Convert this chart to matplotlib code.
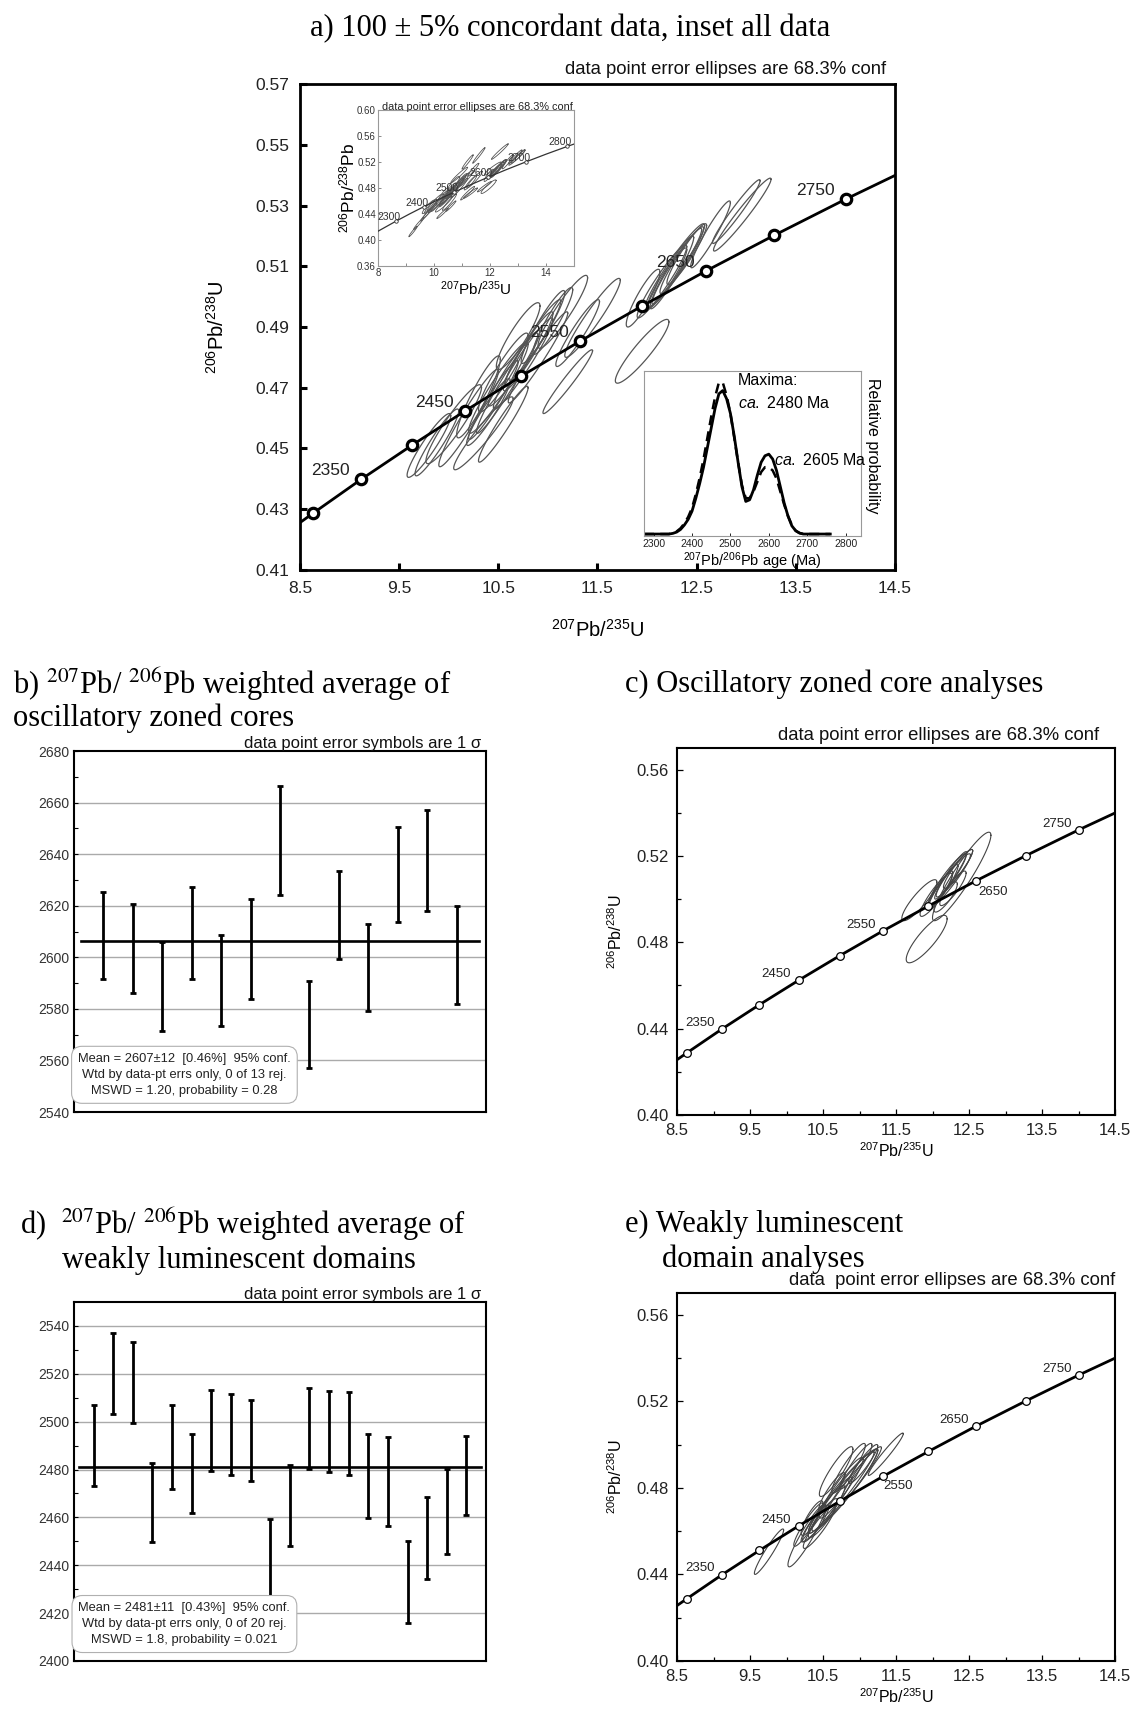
import numpy as np
import matplotlib
matplotlib.use("Agg")
import matplotlib.pyplot as plt

plt.rcParams['font.family'] = ['Liberation Sans', 'DejaVu Sans']
plt.rcParams['mathtext.fontset'] = 'custom'
plt.rcParams['mathtext.rm'] = 'Liberation Sans'
plt.rcParams['mathtext.it'] = 'Liberation Sans:italic'

W, H = 1135, 1711
SERIF = ['Liberation Serif', 'DejaVu Serif']

# concordia age marks (Ma) and their ratios
conc_age = [2300, 2350, 2400, 2450, 2500, 2550, 2600, 2650, 2700, 2750, 2800]
conc_x = [8.632, 9.119, 9.630, 10.166, 10.730, 11.322, 11.944, 12.597, 13.283, 14.004, 14.762]
conc_y = [0.4287, 0.4399, 0.4511, 0.4624, 0.4738, 0.4853, 0.4968, 0.5085, 0.5202, 0.5321, 0.5440]
main_ends_x = [8.5, 14.5]
main_ends_y = [0.4256, 0.5399]
inset_ends_x = [8.0, 15.0]
inset_ends_y = [0.4135, 0.5476]
label_ages = [2350, 2450, 2550, 2650, 2750]

# a) concordant data: x, sigma x, y, sigma y, rho
a_x = [9.80, 9.88, 10.05, 10.20, 10.30, 10.35, 10.45, 10.50, 10.55, 10.60, 10.65, 10.70,
       10.75, 10.80, 10.85, 10.90, 10.95, 11.05, 11.15, 11.20, 10.55, 10.40, 11.95, 11.96,
       12.15, 12.25, 12.30, 12.35, 12.20, 12.40, 12.64, 12.96, 12.90, 12.28, 11.45, 11.30]
a_sx = [0.22, 0.22, 0.28, 0.30, 0.22, 0.30, 0.25, 0.30, 0.25, 0.32, 0.25, 0.22,
        0.30, 0.25, 0.28, 0.30, 0.22, 0.20, 0.25, 0.25, 0.25, 0.22, 0.27, 0.17,
        0.25, 0.22, 0.25, 0.22, 0.20, 0.20, 0.20, 0.29, 0.24, 0.30, 0.28, 0.22]
a_y = [0.4510, 0.4520, 0.4580, 0.4600, 0.4670, 0.4550, 0.4660, 0.4700, 0.4750, 0.4720, 0.4760, 0.4870,
       0.4780, 0.4820, 0.4850, 0.4800, 0.4900, 0.4920, 0.4950, 0.4720, 0.4580, 0.4620, 0.4820, 0.4995,
       0.5050, 0.5080, 0.5100, 0.5120, 0.5060, 0.5140, 0.5205, 0.5270, 0.5280, 0.5100, 0.4930, 0.4880]
a_sy = [0.0105, 0.0110, 0.0130, 0.0160, 0.0135, 0.0120, 0.0130, 0.0150, 0.0130, 0.0170, 0.0120, 0.0110,
        0.0150, 0.0130, 0.0140, 0.0150, 0.0120, 0.0110, 0.0120, 0.0105, 0.0125, 0.0110, 0.0105, 0.0095,
        0.0120, 0.0120, 0.0125, 0.0110, 0.0100, 0.0100, 0.0110, 0.0120, 0.0105, 0.0140, 0.0130, 0.0110]
a_rho = [0.93, 0.94, 0.93, 0.96, 0.92, 0.95, 0.96, 0.95, 0.93, 0.97, 0.95, 0.90,
         0.96, 0.95, 0.96, 0.97, 0.94, 0.93, 0.93, 0.97, 0.96, 0.94, 0.92, 0.90,
         0.95, 0.95, 0.96, 0.95, 0.94, 0.94, 0.95, 0.97, 0.97, 0.96, 0.95, 0.94]

# inset: the discordant analyses added to the concordant ones
ins_x = [9.25, 9.45, 9.70, 10.30, 10.60, 11.30, 11.80, 11.60, 12.35, 11.20, 13.00, 10.90, 11.40, 12.10, 10.10, 9.85]
ins_sx = [0.15, 0.18, 0.18, 0.20, 0.18, 0.25, 0.25, 0.22, 0.30, 0.20, 0.25, 0.30, 0.20, 0.30, 0.30, 0.25]
ins_y = [0.413, 0.425, 0.438, 0.441, 0.452, 0.472, 0.482, 0.530, 0.536, 0.520, 0.528, 0.500, 0.508, 0.510, 0.455, 0.445]
ins_sy = [0.008, 0.009, 0.009, 0.008, 0.008, 0.008, 0.008, 0.012, 0.012, 0.011, 0.010, 0.012, 0.010, 0.010, 0.013, 0.012]
ins_rho = [0.97, 0.97, 0.97, 0.97, 0.97, 0.97, 0.97, 0.98, 0.98, 0.97, 0.97, 0.97, 0.96, 0.95, 0.97, 0.98]

# relative probability (inset of a)
pdp_age = [2275, 2340, 2350, 2360, 2370, 2380, 2390, 2400, 2410, 2420, 2430, 2440, 2450, 2460, 2470,
           2480, 2490, 2500, 2510, 2520, 2530, 2540, 2550, 2560, 2570, 2580, 2590, 2600, 2610,
           2620, 2630, 2640, 2650, 2660, 2670, 2680, 2690, 2760]
pdp_solid = [0.0, 0.0, 0.004, 0.012, 0.028, 0.055, 0.09, 0.14, 0.22, 0.31, 0.41, 0.53, 0.65, 0.77, 0.86,
             0.88, 0.83, 0.74, 0.60, 0.44, 0.29, 0.20, 0.21, 0.27, 0.36, 0.44, 0.48, 0.49, 0.46,
             0.39, 0.29, 0.19, 0.11, 0.05, 0.02, 0.006, 0.0, 0.0]
pdp_dash = [0.0, 0.0, 0.006, 0.016, 0.035, 0.065, 0.105, 0.16, 0.245, 0.345, 0.46, 0.59, 0.72, 0.84, 0.93,
            0.93, 0.85, 0.74, 0.59, 0.44, 0.30, 0.22, 0.22, 0.26, 0.32, 0.38, 0.41, 0.41, 0.39,
            0.34, 0.26, 0.18, 0.11, 0.055, 0.02, 0.006, 0.0, 0.0]

# b) oscillatory zoned cores, 207Pb/206Pb age and 1 sigma
b_age = [2608.4, 2603.3, 2588.6, 2609.4, 2590.9, 2603.2, 2645.2, 2573.9, 2616.3, 2596.0, 2632.2, 2637.4, 2601.0]
b_err = [16.8, 17.3, 17.2, 17.9, 17.6, 19.5, 21.2, 17.0, 17.0, 17.0, 18.4, 19.6, 19.0]
b_mean = 2606.5

# c) oscillatory zoned cores ellipses
c_x = [12.40, 11.92, 11.82, 12.20, 12.25, 12.15, 12.30, 12.10, 12.22, 12.05, 12.35, 12.18, 12.28]
c_sx = [0.40, 0.28, 0.24, 0.26, 0.22, 0.20, 0.25, 0.18, 0.30, 0.22, 0.20, 0.16, 0.18]
c_y = [0.5105, 0.4815, 0.4995, 0.5090, 0.5110, 0.5060, 0.5120, 0.5040, 0.5080, 0.5020, 0.5140, 0.5010, 0.5050]
c_sy = [0.0205, 0.0110, 0.0095, 0.0120, 0.0110, 0.0100, 0.0110, 0.0090, 0.0130, 0.0100, 0.0090, 0.0070, 0.0080]
c_rho = [0.93, 0.85, 0.88, 0.94, 0.95, 0.93, 0.94, 0.92, 0.95, 0.90, 0.93, 0.85, 0.88]

# d) weakly luminescent domains
d_age = [2489.9, 2520.1, 2516.4, 2466.3, 2489.5, 2478.3, 2496.4, 2494.6, 2492.0, 2442.4,
         2464.8, 2497.2, 2496.0, 2495.0, 2477.3, 2475.0, 2433.0, 2451.5, 2462.6, 2477.5]
d_err = [16.9, 17.0, 16.9, 16.6, 17.5, 16.6, 16.9, 17.0, 17.0, 17.0,
         16.9, 16.9, 17.0, 17.3, 17.4, 18.4, 17.1, 17.1, 17.7, 16.6]
d_mean = 2481

# e) weakly luminescent domain ellipses
e_x = [9.76, 10.28, 10.68, 10.85, 10.95, 11.36, 10.70, 10.80, 10.90, 10.40,
       10.50, 10.55, 10.35, 10.60, 11.00, 10.45, 11.05, 10.75, 10.62, 10.30]
e_sx = [0.20, 0.26, 0.23, 0.23, 0.22, 0.24, 0.50, 0.45, 0.40, 0.18,
        0.20, 0.25, 0.15, 0.30, 0.25, 0.22, 0.20, 0.30, 0.18, 0.20]
e_y = [0.4505, 0.4580, 0.4875, 0.4890, 0.4900, 0.4955, 0.4760, 0.4790, 0.4820, 0.4635,
       0.4660, 0.4700, 0.4660, 0.4720, 0.4860, 0.4620, 0.4910, 0.4800, 0.4780, 0.4630]
e_sy = [0.0105, 0.0145, 0.0115, 0.0115, 0.0105, 0.0098, 0.0210, 0.0190, 0.0170, 0.0085,
        0.0090, 0.0110, 0.0080, 0.0130, 0.0120, 0.0100, 0.0090, 0.0140, 0.0090, 0.0100]
e_rho = [0.95, 0.93, 0.90, 0.92, 0.93, 0.97, 0.97, 0.96, 0.97, 0.90,
         0.90, 0.93, 0.85, 0.95, 0.95, 0.92, 0.93, 0.94, 0.90, 0.93]


fig = plt.figure(figsize=(W / 100, H / 100), dpi=100)


def rect(l, t, r, b):
    return [l / W, 1 - b / H, (r - l) / W, (b - t) / H]


def ftext(x, y, s, **kw):
    fig.text(x / W, 1 - y / H, s, **kw)


def ellipses(ax, ex, sx, ey, sy, rho, color, lw):
    t = np.linspace(0, 2 * np.pi, 120)
    for cx, a, cy, b, r in zip(ex, sx, ey, sy, rho):
        ax.plot(cx + a * np.cos(t),
                cy + b * (r * np.cos(t) + np.sqrt(1 - r * r) * np.sin(t)),
                color=color, lw=lw, zorder=2)


def concordia(ax, ends_x, ends_y, ms, mew, lw, every=1, color='black'):
    keep = [i for i, x in enumerate(conc_x) if ends_x[0] <= x <= ends_x[1]]
    lx = [ends_x[0]] + [conc_x[i] for i in keep] + [ends_x[1]]
    ly = [ends_y[0]] + [conc_y[i] for i in keep] + [ends_y[1]]
    ax.plot(lx, ly, color=color, lw=lw, zorder=3)
    mk = keep[::every]
    ax.plot([conc_x[i] for i in mk], [conc_y[i] for i in mk], 'o', ms=ms, mew=mew,
            mfc='white', mec=color, zorder=4)


def conc_labels(ax, ages, offsets, size, color='#222222'):
    for age in ages:
        i = conc_age.index(age)
        dx, dy = offsets.get(age, offsets['default'])
        ax.annotate(str(age), (conc_x[i], conc_y[i]), xytext=(dx, dy), textcoords='offset points',
                    ha='center', va='center', fontsize=size, color=color, zorder=5)


def conc_axes(ax, ylim, yticks, ytick_minor, xminor, labsize, tickw, spinew):
    ax.set_xlim(8.5, 14.5)
    ax.set_ylim(*ylim)
    xt = np.arange(8.5, 14.51, 1.0)
    ax.set_xticks(xt)
    ax.set_xticklabels(['%.1f' % v for v in xt])
    ax.set_yticks(yticks)
    ax.set_yticklabels(['%.2f' % v for v in yticks])
    if xminor:
        ax.set_xticks(np.arange(9.0, 14.1, 1.0), minor=True)
    if ytick_minor is not None:
        ax.set_yticks(ytick_minor, minor=True)
    ax.tick_params(which='both', direction='in', labelsize=labsize, labelcolor='#222222',
                   width=tickw, length=4)
    ax.tick_params(which='minor', length=3)
    for s in ax.spines.values():
        s.set_linewidth(spinew)


# ---------------- a) ----------------
ftext(570, 29, 'a) 100 ± 5% concordant data, inset all data', family=SERIF, fontsize=22,
      ha='center', va='center')
ax = fig.add_axes(rect(300, 84, 895, 570))
ellipses(ax, a_x, a_sx, a_y, a_sy, a_rho, '#555555', 0.9)
concordia(ax, main_ends_x, main_ends_y, ms=7.5, mew=2.3, lw=2.0)
conc_labels(ax, label_ages, {'default': (-22, 6)}, 12.5)
conc_axes(ax, (0.41, 0.57), np.arange(0.41, 0.5705, 0.02), None, False, 12.5, 2.2, 2.0)
ax.tick_params(length=5, pad=8)
ax.set_xlabel(r'$^{207}$Pb/$^{235}$U', fontsize=14.5)
ax.xaxis.set_label_coords(0.5, -0.1)
ax.set_ylabel(r'$^{206}$Pb/$^{238}$U', fontsize=14.5)
ax.yaxis.set_label_coords(-0.122, 0.5)
ax.text(0.985, 1.03, 'data point error ellipses are 68.3% conf', transform=ax.transAxes,
        ha='right', va='center', fontsize=13.3, color='#111111')

# inset: all data
axi = fig.add_axes(rect(378, 110, 574, 266))
ellipses(axi, a_x, a_sx, a_y, a_sy, a_rho, '#555555', 0.6)
ellipses(axi, ins_x, ins_sx, ins_y, ins_sy, ins_rho, '#555555', 0.6)
concordia(axi, inset_ends_x, inset_ends_y, ms=2.5, mew=0.6, lw=0.9, every=2, color='#333333')
for age in [2300, 2400, 2500, 2600, 2700, 2800]:
    i = conc_age.index(age)
    axi.annotate(str(age), (conc_x[i], conc_y[i]), xytext=(-5, 3), textcoords='offset points',
                 ha='center', va='center', fontsize=7.5, color='#333333', zorder=5)
axi.set_xlim(8, 15)
axi.set_ylim(0.36, 0.60)
axi.set_xticks([8, 10, 12, 14])
axi.set_xticks([9, 11, 13, 15], minor=True)
yt = np.arange(0.36, 0.6005, 0.04)
axi.set_yticks(yt)
axi.set_yticklabels(['%.2f' % v for v in yt])
axi.tick_params(which='both', direction='in', length=2, width=0.6, labelsize=7, pad=1.5,
                labelcolor='#333333', color='#777777')
for s in axi.spines.values():
    s.set_color('#999999')
    s.set_linewidth(0.8)
axi.set_xlabel(r'$^{207}$Pb/$^{235}$U', fontsize=11, labelpad=1)
axi.set_ylabel(r'$^{206}$Pb/$^{238}$Pb', fontsize=12.5, labelpad=0)
axi.text(0.995, 0.99, 'data point error ellipses are 68.3% conf', transform=axi.transAxes,
         ha='right', va='bottom', fontsize=7.8, color='#222222')

# inset: relative probability
axp = fig.add_axes(rect(644, 371, 861, 536))
axp.plot(pdp_age, pdp_solid, color='black', lw=2.0)
axp.plot(pdp_age, pdp_dash, color='black', lw=1.8, ls=(0, (4, 2.5)))
axp.set_xlim(2275, 2840)
axp.set_ylim(-0.012, 1.0)
axp.set_xticks(np.arange(2300, 2801, 100))
axp.set_yticks([])
axp.tick_params(direction='in', length=2, width=0.6, labelsize=7.5, pad=2, labelcolor='#222222')
for s in axp.spines.values():
    s.set_color('#999999')
    s.set_linewidth(0.8)
axp.set_xlabel(r'$^{207}$Pb/$^{206}$Pb age (Ma)', fontsize=10.5, labelpad=1)
axp.text(0.433, 0.945, 'Maxima:', transform=axp.transAxes, ha='left', va='center', fontsize=11.5)
axp.text(0.433, 0.805, r'$\mathit{ca.}$ 2480 Ma', transform=axp.transAxes, ha='left', va='center',
         fontsize=11.5)
axp.text(0.6, 0.46, r'$\mathit{ca.}$ 2605 Ma', transform=axp.transAxes, ha='left', va='center',
         fontsize=11.5)
axp.text(1.055, 0.55, 'Relative probability', transform=axp.transAxes, rotation=270,
         ha='center', va='center', fontsize=11.5)


# ---------------- b) and d) ----------------
def wtd_panel(box, ages, errs, mean, ylim, ticks, grid, note):
    axw = fig.add_axes(rect(*box))
    n = len(ages)
    xs = np.arange(1, n + 1)
    for g in grid:
        axw.axhline(g, color='#aaaaaa', lw=1.0, zorder=1)
    axw.errorbar(xs, ages, yerr=errs, fmt='none', ecolor='black', elinewidth=2.0,
                 capsize=2.2, capthick=2.0, zorder=3)
    axw.plot([0.25, n + 0.75], [mean, mean], color='black', lw=1.9, zorder=4)
    axw.set_xlim(0, n + 1)
    axw.set_ylim(*ylim)
    axw.set_xticks([])
    axw.set_yticks(ticks)
    axw.set_yticks(np.arange(ylim[0] + 10, ylim[1], 20), minor=True)
    axw.tick_params(which='both', direction='in', length=3, width=0.8, labelsize=10,
                    labelcolor='#333333', pad=3)
    for s in axw.spines.values():
        s.set_linewidth(1.5)
    axw.text(0.988, 1.0, 'data point error symbols are 1 σ', transform=axw.transAxes,
             ha='right', va='bottom', fontsize=12, color='#111111')
    axw.text(0.268, 0.103, note, transform=axw.transAxes, ha='center', va='center',
             fontsize=9.3, linespacing=1.45, color='#222222', zorder=10,
             bbox=dict(boxstyle='round,pad=0.5,rounding_size=0.8', fc='white',
                       ec='#b0b0b0', lw=0.8))
    return axw


ftext(13, 684, r'b) $^{207}$Pb/ $^{206}$Pb weighted average of', family=SERIF, fontsize=22,
      ha='left', va='center', math_fontfamily='stix')
ftext(13, 718, 'oscillatory zoned cores', family=SERIF, fontsize=22, ha='left', va='center')
wtd_panel((74, 751, 486, 1112), b_age, b_err, b_mean, (2540, 2680),
          np.arange(2540, 2681, 20), np.arange(2560, 2661, 20),
          'Mean = 2607±12  [0.46%]  95% conf.\nWtd by data-pt errs only, 0 of 13 rej.\n'
          'MSWD = 1.20, probability = 0.28')

ftext(20, 1224, r'd)  $^{207}$Pb/ $^{206}$Pb weighted average of', family=SERIF, fontsize=22,
      ha='left', va='center', math_fontfamily='stix')
ftext(62, 1260, 'weakly luminescent domains', family=SERIF, fontsize=22, ha='left', va='center')
wtd_panel((74, 1302, 486, 1661), d_age, d_err, d_mean, (2400, 2550),
          np.arange(2400, 2541, 20), np.arange(2420, 2541, 20),
          'Mean = 2481±11  [0.43%]  95% conf.\nWtd by data-pt errs only, 0 of 20 rej.\n'
          'MSWD = 1.8, probability = 0.021')


# ---------------- c) and e) ----------------
def conc_panel(box, ex, sx, ey, sy, rho, offsets, note):
    axc = fig.add_axes(rect(*box))
    ellipses(axc, ex, sx, ey, sy, rho, '#444444', 0.8)
    concordia(axc, main_ends_x, main_ends_y, ms=5.5, mew=0.9, lw=2.0)
    conc_labels(axc, label_ages, offsets, 9.5)
    conc_axes(axc, (0.40, 0.57), np.arange(0.40, 0.5605, 0.04), np.arange(0.42, 0.57, 0.04),
              True, 12, 0.9, 1.5)
    axc.tick_params(pad=6)
    axc.set_xlabel(r'$^{207}$Pb/$^{235}$U', fontsize=11.5, labelpad=2)
    axc.set_ylabel(r'$^{206}$Pb/$^{238}$U', fontsize=11.5, labelpad=8)
    axc.text(1.0, 1.01, note, transform=axc.transAxes, ha='right', va='bottom',
             fontsize=13.3, color='#111111')
    return axc


ftext(625, 684, 'c) Oscillatory zoned core analyses', family=SERIF, fontsize=22,
      ha='left', va='center')
conc_panel((677, 748, 1115, 1115), c_x, c_sx, c_y, c_sy, c_rho,
           {'default': (-16, 4.5), 2650: (12, -8)},
           'data point error ellipses are 68.3% conf   ')

ftext(625, 1224, 'e) Weakly luminescent', family=SERIF, fontsize=22, ha='left', va='center')
ftext(662, 1259, 'domain analyses', family=SERIF, fontsize=22, ha='left', va='center')
conc_panel((677, 1293, 1115, 1661), e_x, e_sx, e_y, e_sy, e_rho,
           {'default': (-16, 4.5), 2550: (11, -7)},
           'data  point error ellipses are 68.3% conf')

fig.savefig('out.png', dpi=100)
